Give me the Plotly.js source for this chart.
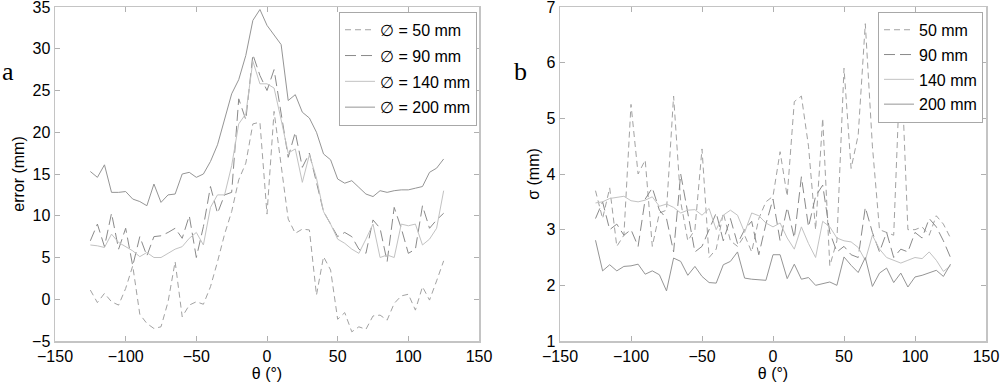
<!DOCTYPE html>
<html>
<head>
<meta charset="utf-8">
<script src="https://cdn.plot.ly/plotly-3.0.1.min.js"></script>
<style>html,body{margin:0;padding:0;background:#fff;}#chart{width:1000px;height:382px;}</style>
</head>
<body>
<div id="chart"></div>
<script>
var theta = [-125,-120,-115,-110,-105,-100,-95,-90,-85,-80,-75,-70,-65,-60,-55,-50,-45,-40,-35,-30,-25,-20,-15,-10,-5,0,5,10,15,20,25,30,35,40,45,50,55,60,65,70,75,80,85,90,95,100,105,110,115,120,125];

var err50  = [1.1,-0.4,0.7,-0.3,-0.7,1.3,4.0,-1.8,-2.9,-3.5,-3.3,-0.3,4.5,-2.1,-0.7,-0.3,-0.6,1.5,4.5,7.8,10.5,14.3,16.3,21.0,21.2,10.2,22.5,16.0,9.6,7.9,8.4,8.3,0.5,5.1,3.5,-2.4,-1.6,-3.9,-3.3,-3.6,-2.0,-1.9,-2.5,-0.5,0.4,0.6,-1.3,1.5,-0.1,2.2,4.6];
var err90  = [7.0,9.0,6.3,10.3,6.0,8.5,4.0,7.5,5.2,7.5,7.6,8.0,8.5,7.3,10.0,5.0,8.7,13.5,10.3,12.5,12.8,24.0,21.5,29.3,26.8,25.0,27.5,22.0,17.0,20.0,15.8,17.5,14.0,10.5,9.0,7.5,8.0,7.5,6.0,5.5,9.5,8.5,4.5,11.0,8.5,5.5,6.0,11.2,8.5,9.5,10.3];
var err140 = [6.5,6.4,6.2,7.8,6.8,6.3,5.8,5.1,5.6,5.0,5.0,5.5,6.0,6.3,7.3,8.0,6.5,11.0,12.5,12.5,16.0,21.0,22.2,28.5,25.8,25.8,25.3,21.5,17.5,18.0,14.0,17.3,14.5,10.5,9.0,7.2,6.7,6.0,5.5,7.2,9.0,5.0,5.3,5.0,9.0,8.8,9.0,6.5,7.2,8.5,13.0];
var err200 = [15.3,14.6,16.1,12.8,12.8,12.9,12.0,11.7,11.2,13.8,11.6,12.5,12.6,15.0,15.2,14.6,15.0,16.5,18.5,21.5,24.6,26.3,29.2,33.4,34.7,32.8,31.7,30.5,23.8,24.5,22.4,21.7,20.0,17.4,16.7,14.4,13.9,14.2,13.4,12.6,12.3,13.0,12.8,13.0,13.1,13.1,13.3,13.5,15.2,15.7,16.8];

var sig50  = [3.7,3.2,3.75,2.7,2.9,5.25,4.0,4.25,2.7,3.3,3.35,5.4,3.5,2.8,3.0,4.45,2.5,2.65,3.3,2.8,2.7,2.9,2.6,3.2,3.5,3.6,4.4,3.6,5.3,5.4,4.5,3.0,5.0,2.35,2.8,5.9,4.1,4.7,6.7,4.5,3.0,2.95,2.9,6.2,3.0,3.0,3.05,2.9,3.25,3.1,2.85];
var sig90  = [3.2,3.5,3.0,3.1,2.9,3.0,2.7,3.55,3.75,3.35,3.2,2.6,4.0,3.3,2.6,2.7,3.0,3.3,2.8,3.2,2.75,3.0,3.15,2.55,3.1,3.55,2.8,3.4,2.85,3.95,3.05,3.6,3.8,2.95,2.6,2.7,2.55,2.5,3.4,2.95,2.6,2.95,2.5,2.65,2.6,2.95,2.85,3.2,3.05,2.8,2.5];
var sig140 = [3.48,3.50,3.56,3.58,3.60,3.52,3.50,3.53,3.59,3.42,3.46,3.40,3.30,3.35,3.36,3.26,3.38,3.00,3.26,3.35,3.26,2.95,3.30,3.25,3.12,3.05,3.12,2.85,2.65,3.05,2.75,2.50,3.15,3.05,2.85,2.80,2.78,2.68,2.45,2.90,2.65,2.50,2.45,2.40,2.45,2.50,2.48,2.60,2.45,2.25,2.35];
var sig200 = [2.81,2.26,2.37,2.26,2.34,2.35,2.38,2.20,2.26,2.19,1.90,2.49,2.43,2.18,2.34,2.16,2.05,2.04,2.37,2.43,2.60,2.13,2.11,2.10,2.09,2.55,2.55,2.12,2.38,2.11,2.14,2.00,2.03,2.06,2.00,2.51,2.36,2.23,2.50,1.98,2.22,2.31,2.05,2.22,1.97,2.15,2.18,2.22,2.27,2.16,2.38];

var namesA = ['\u2205 = 50 mm','\u2205 = 90 mm','\u2205 = 140 mm','\u2205 = 200 mm'];
var namesB = ['50 mm','90 mm','140 mm','200 mm'];
var xTicks = [-150,-100,-50,0,50,100,150];
var yTicksA = [-5,0,5,10,15,20,25,30,35];
var yTicksB = [1,2,3,4,5,6,7];

var styles = [
  {color:'#a2a2a2', dash:'6px,4px'},
  {color:'#8a8a8a', dash:'11px,5px'},
  {color:'#c2c2c2', dash:'solid'},
  {color:'#959595', dash:'solid'}
];
var seriesA = [err50, err90, err140, err200];
var seriesB = [sig50, sig90, sig140, sig200];

var traces = [];
for (var i = 0; i < 4; i++) {
  traces.push({x: theta, y: seriesA[i], type:'scatter', mode:'lines', name: namesA[i],
    line:{color: styles[i].color, dash: styles[i].dash, width:1}, xaxis:'x', yaxis:'y',
    legend:'legend', legendgroup:'a'+i});
}
for (var i = 0; i < 4; i++) {
  traces.push({x: theta, y: seriesB[i], type:'scatter', mode:'lines', name: namesB[i],
    line:{color: styles[i].color, dash: styles[i].dash, width:1}, xaxis:'x2', yaxis:'y2',
    legend:'legend2', legendgroup:'b'+i});
}

var font = {family:'Liberation Sans, Arial, sans-serif', size:16, color:'#000'};
function axis(extra) {
  var a = {showgrid:false, zeroline:false, showline:true, mirror:'ticks', linecolor:'#c4c4c4', linewidth:1.5,
    ticks:'inside', ticklen:5, tickcolor:'#b0b0b0', tickwidth:1, tickfont:font, fixedrange:true,
    ticklabeloverflow:'allow'};
  for (var k in extra) a[k] = extra[k];
  return a;
}
var yDom = [41/382, 375/382];
var layout = {
  width:1000, height:382, margin:{l:0,r:0,t:0,b:0},
  paper_bgcolor:'#fff', plot_bgcolor:'#fff', font:font,
  xaxis: axis({domain:[0.055,0.479], range:[-150,150], tickvals:xTicks, anchor:'y',
    title:{text:'\u03b8 (\u00b0)', font:font, standoff:1}}),
  yaxis: axis({domain:yDom, range:[-5,35], tickvals:yTicksA, anchor:'x',
    title:{text:'error (mm)', font:font, standoff:3}}),
  xaxis2: axis({domain:[0.560,0.986], range:[-150,150], tickvals:xTicks, anchor:'y2',
    title:{text:'\u03b8 (\u00b0)', font:font, standoff:1}}),
  yaxis2: axis({domain:yDom, range:[1,7], tickvals:yTicksB, anchor:'x2',
    title:{text:'\u03c3 (mm)', font:font, standoff:3}}),
  legend: {x:0.339, y:0.969, xanchor:'left', yanchor:'top', bgcolor:'#fff', bordercolor:'#a8a8a8', borderwidth:1,
    font:font, traceorder:'grouped', tracegroupgap:2, itemwidth:30},
  legend2: {x:0.878, y:0.969, xanchor:'left', yanchor:'top', bgcolor:'#fff', bordercolor:'#a8a8a8', borderwidth:1,
    font:font, traceorder:'grouped', tracegroupgap:1, itemwidth:30},
  showlegend:true,
  annotations:[
    {text:'a', xref:'paper', yref:'paper', x:0, y:(382-72)/382, xanchor:'left', yanchor:'middle', showarrow:false,
      font:{family:'Liberation Serif, Times New Roman, serif', size:26, color:'#000'}},
    {text:'b', xref:'paper', yref:'paper', x:0.512, y:(382-72)/382, xanchor:'left', yanchor:'middle', showarrow:false,
      font:{family:'Liberation Serif, Times New Roman, serif', size:26, color:'#000'}}
  ]
};
Plotly.newPlot('chart', traces, layout, {staticPlot:true, displayModeBar:false});
</script>
</body>
</html>
